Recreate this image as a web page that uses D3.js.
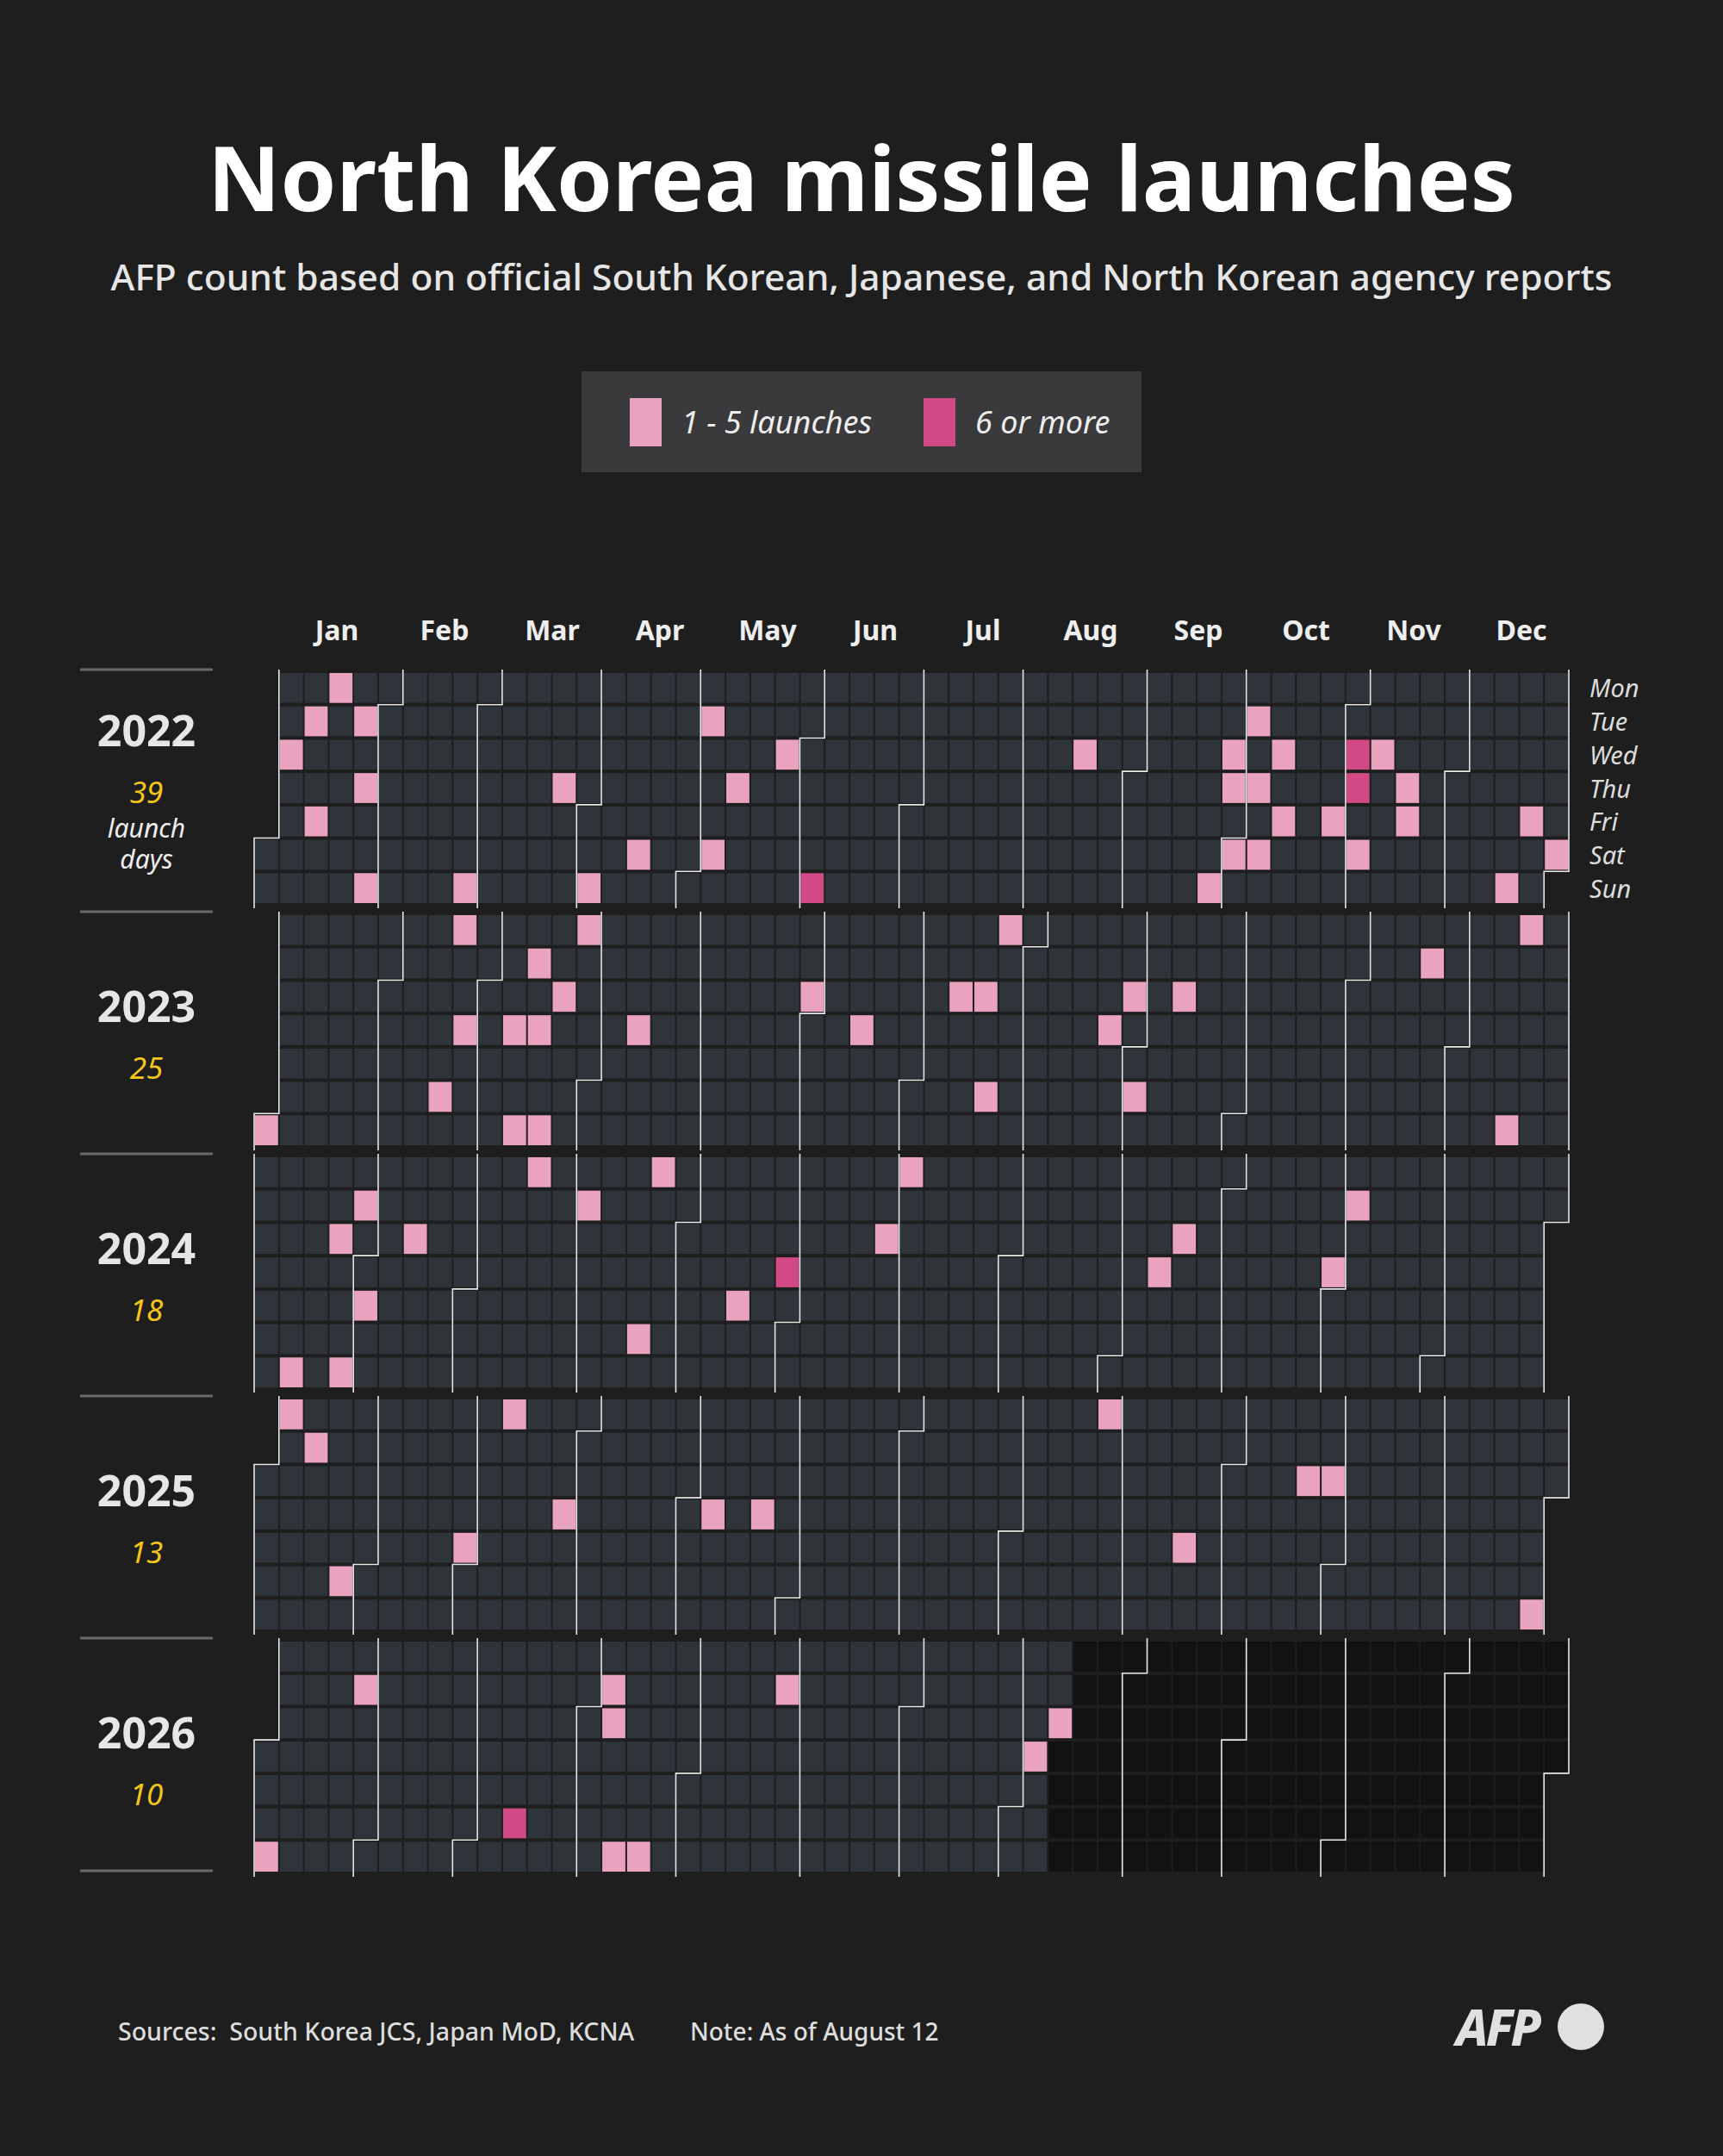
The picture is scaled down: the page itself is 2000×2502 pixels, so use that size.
<!DOCTYPE html>
<html>
<head>
<meta charset="utf-8">
<script src="https://cdn.jsdelivr.net/npm/d3@7"></script>
<style>
  body { margin: 0; background: #1e1e1e; }
  svg { display: block; font-family: "Noto Sans", sans-serif; }
</style>
</head>
<body>
<div id="chart"></div>
<script>
const years = [2022, 2023, 2024, 2025, 2026];
const launchDayCounts = [39, 25, 18, 13, 10];
const monthLabels = ['Jan', 'Feb', 'Mar', 'Apr', 'May', 'Jun', 'Jul', 'Aug', 'Sep', 'Oct', 'Nov', 'Dec'];
const dayLabels = ['Mon', 'Tue', 'Wed', 'Thu', 'Fri', 'Sat', 'Sun'];
const asOf = '2026-08-12';

// days with 1-5 launches
const lightDays = [
  '2022-01-05', '2022-01-11', '2022-01-14', '2022-01-17', '2022-01-25', '2022-01-27', '2022-01-30',
  '2022-02-27', '2022-03-24', '2022-04-03', '2022-04-16', '2022-05-03', '2022-05-07', '2022-05-12',
  '2022-05-25', '2022-08-17', '2022-09-25', '2022-09-28', '2022-09-29', '2022-10-01', '2022-10-04',
  '2022-10-06', '2022-10-08', '2022-10-12', '2022-10-14', '2022-10-28', '2022-11-05', '2022-11-09',
  '2022-11-17', '2022-11-18', '2022-12-18', '2022-12-23', '2022-12-31',
  '2023-01-01', '2023-02-18', '2023-02-20', '2023-02-23', '2023-03-09', '2023-03-12', '2023-03-14',
  '2023-03-16', '2023-03-19', '2023-03-22', '2023-03-27', '2023-04-13', '2023-05-31', '2023-06-15',
  '2023-07-12', '2023-07-19', '2023-07-22', '2023-07-24', '2023-08-24', '2023-08-30', '2023-09-02',
  '2023-09-13', '2023-11-21', '2023-12-17', '2023-12-18',
  '2024-01-14', '2024-01-24', '2024-01-28', '2024-01-30', '2024-02-02', '2024-02-14', '2024-03-18',
  '2024-04-02', '2024-04-20', '2024-04-22', '2024-05-17', '2024-06-26', '2024-07-01', '2024-09-12',
  '2024-09-18', '2024-10-31', '2024-11-05',
  '2025-01-06', '2025-01-14', '2025-01-25', '2025-02-28', '2025-03-10', '2025-03-27', '2025-05-08',
  '2025-05-22', '2025-08-25', '2025-09-19', '2025-10-22', '2025-10-29', '2025-12-28',
  '2026-01-04', '2026-01-27', '2026-04-07', '2026-04-08', '2026-04-12', '2026-04-19', '2026-05-26',
  '2026-08-06', '2026-08-12'
];
// days with 6 or more launches
const heavyDays = ['2022-06-05', '2022-11-02', '2022-11-03', '2024-05-30', '2026-03-14'];

const width = 2000, height = 2502;
const parse = d3.timeParse('%Y-%m-%d');
const fmt = d3.timeFormat('%Y-%m-%d');
const lightSet = new Set(lightDays), heavySet = new Set(heavyDays);
const cutoff = parse(asOf);

const svg = d3.select('#chart').append('svg').attr('width', width).attr('height', height);
svg.append('rect').attr('width', width).attr('height', height).attr('fill', '#1e1e1e');

// header
svg.append('text').text('North Korea missile launches')
  .attr('x', 1000).attr('y', 245).attr('text-anchor', 'middle')
  .attr('fill', '#fff').attr('font-size', 104).attr('font-weight', 700);
svg.append('text').text('AFP count based on official South Korean, Japanese, and North Korean agency reports')
  .attr('x', 1000).attr('y', 337).attr('text-anchor', 'middle')
  .attr('fill', '#e6e6e6').attr('font-size', 42.5).attr('font-weight', 500);

// legend
const legend = svg.append('g');
legend.append('rect').attr('x', 675).attr('y', 431).attr('width', 650).attr('height', 117).attr('fill', '#3a3a3c');
[['#e9a3bf', '1 - 5 launches', 731], ['#d24a85', '6 or more', 1072]].forEach(([c, t, x]) => {
  legend.append('rect').attr('x', x).attr('y', 462).attr('width', 37).attr('height', 56).attr('fill', c);
  legend.append('text').text(t).attr('x', x + 60).attr('y', 503)
    .attr('fill', '#eee').attr('font-size', 36).attr('font-style', 'italic');
});

// scales
const gridLeft = 295, gridRight = 1821;
const x = d3.scaleBand().domain(d3.range(53)).range([gridLeft, gridRight]).padding(0);
const yearY = d3.scaleBand().domain(years).range([779, 779 + 281 * years.length]).paddingInner(0);
const blockH = 271;
const row = d3.scaleBand().domain(d3.range(7)).range([0, blockH]);
const monthX = d3.scalePoint().domain(monthLabels).range([391, 1766]);
const cw = x.bandwidth(), ch = row.bandwidth();

const dayIdx = d => (d.getDay() + 6) % 7;
const weekIdx = d => d3.timeMonday.count(d3.timeYear(d), d);

// month labels
monthLabels.forEach(m => {
  svg.append('text').text(m)
    .attr('x', monthX(m)).attr('y', 743)
    .attr('text-anchor', 'middle').attr('fill', '#eee')
    .attr('font-size', 32).attr('font-weight', 700);
});

// day labels
dayLabels.forEach((d, i) => {
  svg.append('text').text(d)
    .attr('x', 1845).attr('y', yearY(2022) + row(i) + ch / 2 + 11)
    .attr('fill', '#ddd').attr('font-size', 29).attr('font-style', 'italic');
});

years.forEach((yr, yi) => {
  const g = svg.append('g').attr('transform', `translate(0,${yearY(yr)})`);
  const days = d3.timeDays(new Date(yr, 0, 1), new Date(yr + 1, 0, 1));

  g.selectAll('rect.cell').data(days).enter().append('rect')
    .attr('class', 'cell')
    .attr('x', d => x(weekIdx(d)) + 1)
    .attr('y', d => row(dayIdx(d)) + 2)
    .attr('width', cw - 2)
    .attr('height', ch - 4)
    .attr('fill', d => {
      const k = fmt(d);
      if (heavySet.has(k)) return '#d24a85';
      if (lightSet.has(k)) return '#e9a3bf';
      return d > cutoff ? '#111214' : '#2e3439';
    });

  // month start boundaries (plus the following Jan 1)
  const starts = d3.range(13).map(m => new Date(yr, m, 1));
  g.selectAll('path.month').data(starts).enter().append('path')
    .attr('class', 'month')
    .attr('fill', 'none').attr('stroke', '#e8e8e8').attr('stroke-width', 1.6)
    .attr('d', d => {
      const w = d.getFullYear() > yr ? weekIdx(new Date(yr, 11, 31)) + (dayIdx(d) === 0 ? 1 : 0) : weekIdx(d);
      const r = dayIdx(d);
      if (r === 0) return `M${x(0) + w * cw},-2V${blockH + 4}`;
      return `M${x(0) + (w + 1) * cw},-2V${r * ch}H${x(0) + w * cw}V${blockH + 4}`;
    });

  // left labels
  svg.append('line').attr('x1', 93).attr('x2', 247)
    .attr('y1', yearY(yr) - 2).attr('y2', yearY(yr) - 2)
    .attr('stroke', '#6a6a6a').attr('stroke-width', 3);
  const cy = yearY(yr) + (yi === 0 ? 87 : 126);
  svg.append('text').text(yr).attr('x', 170).attr('y', cy)
    .attr('text-anchor', 'middle').attr('fill', '#e6e6e6')
    .attr('font-size', 50).attr('font-weight', 700);
  svg.append('text').text(launchDayCounts[yi]).attr('x', 170).attr('y', cy + 66)
    .attr('text-anchor', 'middle').attr('fill', '#f5c518')
    .attr('font-size', 35).attr('font-style', 'italic');
  if (yi === 0) {
    ['launch', 'days'].forEach((t, j) => {
      svg.append('text').text(t).attr('x', 170).attr('y', cy + 106 + j * 36)
        .attr('text-anchor', 'middle').attr('fill', '#eee')
        .attr('font-size', 30).attr('font-style', 'italic');
    });
  }
});
svg.append('line').attr('x1', 93).attr('x2', 247).attr('y1', 2171).attr('y2', 2171)
  .attr('stroke', '#6a6a6a').attr('stroke-width', 3);

// footer
svg.append('text').text('Sources:  South Korea JCS, Japan MoD, KCNA').attr('xml:space', 'preserve')
  .attr('x', 137).attr('y', 2368).attr('fill', '#ddd').attr('font-size', 28.5).attr('font-weight', 500);
svg.append('text').text('Note: As of August 12')
  .attr('x', 801).attr('y', 2368).attr('fill', '#ddd').attr('font-size', 28).attr('font-weight', 500);
svg.append('text').text('AFP')
  .attr('x', 1690).attr('y', 2374).attr('fill', '#e0e0e0').attr('font-size', 58)
  .attr('font-weight', 800).attr('font-style', 'italic').attr('letter-spacing', -3);
svg.append('circle').attr('cx', 1835).attr('cy', 2352).attr('r', 27).attr('fill', '#e0e0e0');
</script>
</body>
</html>
